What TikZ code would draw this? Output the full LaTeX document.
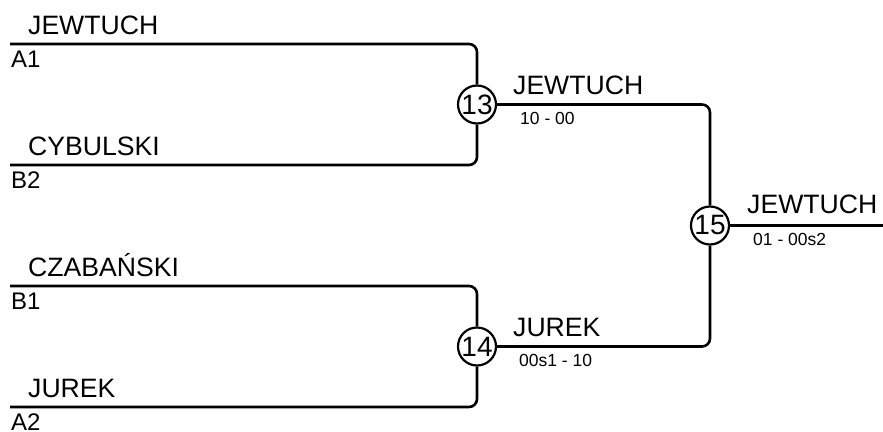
\documentclass[tikz,border=0pt]{standalone}
\usepackage{fontspec}
\setmainfont{Liberation Sans}
\usetikzlibrary{positioning}

\tikzset{
  bline/.style={line width=2.6pt, rounded corners=8pt},
  matchno/.style={draw, circle, line width=2.2pt, minimum size=38pt, inner sep=0pt, font=\fontsize{28}{28}\selectfont},
  pname/.style={anchor=base west, inner sep=0pt, font=\fontsize{26.6}{26.6}\selectfont},
  pseed/.style={anchor=base west, inner sep=0pt, font=\fontsize{24}{24}\selectfont},
  pscore/.style={anchor=base west, inner sep=0pt, font=\fontsize{17.5}{17.5}\selectfont}
}

\begin{document}
\begin{tikzpicture}[x=1pt,y=-1pt]
\useasboundingbox (0,0) rectangle (883,431);

% match circles
\node[matchno] (m13) at (477,104.5) {13};
\node[matchno] (m14) at (477,346.5) {14};
\node[matchno] (m15) at (710,225.5) {15};
\coordinate (fin) at (883,225.5);

% first round
\foreach \y/\nm/\sd/\mt in {44/JEWTUCH/A1/m13, 165/CYBULSKI/B2/m13, 286/CZABAŃSKI/B1/m14, 407/JUREK/A2/m14}{
  \coordinate (s\sd) at (10,\y);
  \draw[bline] (s\sd) -| (\mt);
  \node[pname] (n\sd) at (28,\y-10) {\nm};
  \node[pseed] (d\sd) at (11,\y+23) {\sd};
}

% later rounds
\draw[bline] (m13) -| (m15);
\draw[bline] (m14) -| (m15);
\draw[bline] (m15) -- (fin);

\node[pname] (w13) at (513,94) {JEWTUCH};
\node[pscore] (r13) at (520,124) {10 - 00};
\node[pname] (w14) at (513,336.5) {JUREK};
\node[pscore] (r14) at (519,366.5) {00s1 - 10};
\node[pname] (w15) at (747,213) {JEWTUCH};
\node[pscore] (r15) at (753,245) {01 - 00s2};
\end{tikzpicture}
\end{document}
